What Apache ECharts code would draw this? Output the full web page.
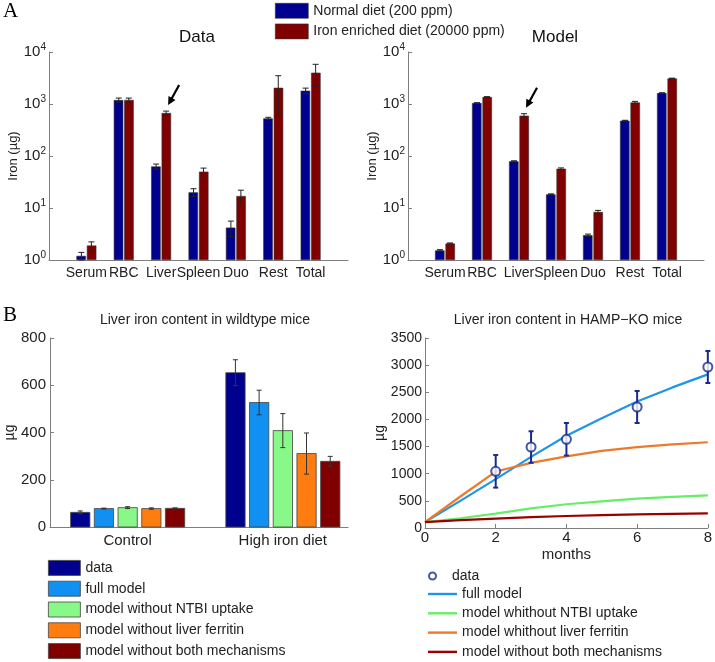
<!DOCTYPE html>
<html>
<head>
<meta charset="utf-8">
<script src="https://cdn.jsdelivr.net/npm/echarts@6/dist/echarts.min.js"></script>
<style>
  html, body { margin: 0; padding: 0; background: #fff; }
  #chart { width: 715px; height: 662px; }
</style>
</head>
<body>
<div id="chart"></div>
<script>
// panel A: iron by compartment (log scale)
var organs = ['', 'Serum', 'RBC', 'Liver', 'Spleen', 'Duo', 'Rest', 'Total', ''];
var dataNormal = [1.2, 1190, 63, 20, 4.2, 530, 1800];
var dataNormalErr = [0.2, 110, 7, 3.5, 1.4, 25, 220];
var dataIron = [1.9, 1200, 670, 50, 17, 2050, 4000];
var dataIronErr = [0.33, 100, 60, 8.5, 5, 1450, 1800];
var modelNormal = [1.53, 1045, 79, 18.3, 3.0, 478, 1625];
var modelNormalErr = [0.05, 15, 2, 0.4, 0.15, 8, 20];
var modelIron = [2.08, 1364, 596, 57, 8.4, 1072, 3100];
var modelIronErr = [0.05, 20, 55, 2, 0.6, 50, 40];

// panel B left: wildtype liver iron
var groups = ['Control', 'High iron diet'];
var wtData = [62, 653], wtDataErr = [6, 55];
var wtFull = [78, 527], wtFullErr = [2, 52];
var wtNtbi = [82, 408], wtNtbiErr = [4, 72];
var wtFerritin = [78, 311], wtFerritinErr = [3, 87];
var wtBoth = [79, 278], wtBothErr = [2, 21];

// panel B right: HAMP-KO time course
var months = [0, 1, 2, 3, 4, 5, 6, 7, 8];
var koFull = [110, 500, 900, 1310, 1700, 2020, 2330, 2590, 2830];
var koNtbi = [110, 180, 265, 360, 437, 490, 541, 575, 602];
var koFerritin = [110, 580, 1040, 1200, 1320, 1420, 1490, 1540, 1580];
var koBoth = [110, 145, 173, 200, 221, 238, 252, 262, 271];
var koDataMonths = [2, 3, 4, 6, 8];
var koData = [1044, 1492, 1634, 2229, 2966];
var koDataErr = [300, 290, 300, 295, 295];

var FONT = 'Liberation Sans';
var NAVY = '#00008f', DARKRED = '#800000';
var axisGray = '#7f7f7f';

function pairs(xs, ys) {
    return ys.map(function (v, i) { return [xs[i], v]; });
}
function withErr(vals, errs, first) {
    return vals.map(function (v, i) { return [i + first, v, errs[i]]; });
}

// error bar series, offset in px from x position
function errSeries(xi, yi, data, offset, color, lw, cap, logMin) {
    return {
        type: 'custom', xAxisIndex: xi, yAxisIndex: yi, silent: true, z: 5,
        data: data,
        renderItem: function (params, api) {
            var x = api.value(0), v = api.value(1), e = api.value(2);
            var lo = v - e;
            if (logMin !== undefined && lo < logMin) lo = logMin;
            var pt = api.coord([x, v + e]);
            var pb = api.coord([x, lo]);
            var cx = pt[0] + offset;
            var st = { stroke: color, lineWidth: lw };
            return {
                type: 'group', children: [
                    { type: 'line', shape: { x1: cx, y1: pt[1], x2: cx, y2: pb[1] }, style: st },
                    { type: 'line', shape: { x1: cx - cap, y1: pt[1], x2: cx + cap, y2: pt[1] }, style: st },
                    { type: 'line', shape: { x1: cx - cap, y1: pb[1], x2: cx + cap, y2: pb[1] }, style: st }
                ]
            };
        }
    };
}

// arrow pointing at the liver bar
function arrowSeries(xi, yi, cat, val) {
    return {
        type: 'custom', xAxisIndex: xi, yAxisIndex: yi, silent: true, z: 6,
        data: [[cat, val]],
        renderItem: function (params, api) {
            var p = api.coord([api.value(0), api.value(1)]);
            var tx = p[0] + 7, ty = p[1] - 8;
            var sx = p[0] + 18, sy = p[1] - 28;
            var dx = tx - sx, dy = ty - sy, L = Math.sqrt(dx * dx + dy * dy);
            var ux = dx / L, uy = dy / L;
            var hx = tx - ux * 8, hy = ty - uy * 8;
            return {
                type: 'group', children: [
                    { type: 'line', shape: { x1: sx, y1: sy, x2: hx + ux * 2, y2: hy + uy * 2 }, style: { stroke: '#000', lineWidth: 2.2 } },
                    { type: 'polygon', shape: { points: [[tx, ty], [hx - uy * 4, hy + ux * 4], [hx + uy * 4, hy - ux * 4]] }, style: { fill: '#000' } }
                ]
            };
        }
    };
}

// custom bars for wildtype panel (value x axis)
function wtSeries(name, vals, errs, k, color) {
    return {
        type: 'custom', name: name, xAxisIndex: 2, yAxisIndex: 2,
        itemStyle: { color: color },
        data: withErr(vals, errs, 1),
        renderItem: function (params, api) {
            var x = api.value(0), v = api.value(1), e = api.value(2);
            var base = api.coord([x, 0]);
            var top = api.coord([x, v]);
            var hi = api.coord([x, v + e]);
            var lo = api.coord([x, v - e]);
            var cx = base[0] + (k - 2) * 23.7;
            var st = { stroke: '#333', lineWidth: 1 };
            return {
                type: 'group', children: [
                    { type: 'rect', shape: { x: cx - 9.6, y: top[1], width: 19.3, height: base[1] - top[1] },
                      style: { fill: color, stroke: '#444', lineWidth: 0.8 } },
                    { type: 'line', shape: { x1: cx, y1: hi[1], x2: cx, y2: lo[1] }, style: st },
                    { type: 'line', shape: { x1: cx - 2.5, y1: hi[1], x2: cx + 2.5, y2: hi[1] }, style: st },
                    { type: 'line', shape: { x1: cx - 2.5, y1: lo[1], x2: cx + 2.5, y2: lo[1] }, style: st }
                ]
            };
        }
    };
}

function logYAxis(gi) {
    return {
        type: 'log', logBase: 10, gridIndex: gi, min: 1, max: 10000,
        name: 'Iron (\u00b5g)', nameLocation: 'middle', nameGap: 26, nameRotate: 90,
        nameTextStyle: { fontFamily: FONT, fontSize: 13, color: '#222' },
        axisLine: { show: true, lineStyle: { color: axisGray } },
        axisTick: { show: true, inside: true, length: 4, lineStyle: { color: axisGray } },
        splitLine: { show: false },
        axisLabel: {
            margin: 3, fontFamily: FONT, fontSize: 15, color: '#222',
            formatter: function (v) { return '10{s|' + Math.round(Math.log10(v)) + '}'; },
            rich: { s: { fontSize: 10, fontFamily: FONT, color: '#222', verticalAlign: 'top', padding: [0, 0, 9, 0] } }
        }
    };
}
function catXAxis(gi) {
    return {
        type: 'category', gridIndex: gi, data: organs, boundaryGap: false,
        axisLine: { lineStyle: { color: axisGray } },
        axisTick: { show: false },
        axisLabel: { interval: 0, margin: 6, fontFamily: FONT, fontSize: 14, color: '#222' }
    };
}
function barSeries(name, vals, color, gi) {
    return {
        type: 'bar', name: name, xAxisIndex: gi, yAxisIndex: gi,
        data: ['-'].concat(vals, ['-']),
        barWidth: 9.5, barGap: '10%',
        itemStyle: { color: color, borderColor: '#333', borderWidth: 0.6 }
    };
}
function koLine(name, ys, color) {
    return {
        type: 'line', name: name, xAxisIndex: 3, yAxisIndex: 3, data: pairs(months, ys),
        showSymbol: false, symbol: 'none', lineStyle: { width: 2.2, color: color }, itemStyle: { color: color }
    };
}

var NORMAL = 'Normal diet (200 ppm)';
var IRON = 'Iron enriched diet (20000 ppm)';
var koColors = { full: '#1e96e6', ntbi: '#66ee66', fer: '#ec7a2a', both: '#9a0000' };
var legendText = { fontFamily: FONT, fontSize: 14, color: '#222' };

var chart = echarts.init(document.getElementById('chart'));
chart.setOption({
    animation: false,
    textStyle: { fontFamily: FONT },
    title: [
        { text: 'A', left: 3, top: 1, padding: 0, textStyle: { fontFamily: 'Liberation Serif', fontSize: 21, fontWeight: 'normal', color: '#000' } },
        { text: 'Data', left: 197, top: 29, padding: 0, textAlign: 'center', textStyle: { fontFamily: FONT, fontSize: 17, fontWeight: 'normal', color: '#111' } },
        { text: 'Model', left: 555, top: 29, padding: 0, textAlign: 'center', textStyle: { fontFamily: FONT, fontSize: 17, fontWeight: 'normal', color: '#111' } },
        { text: 'B', left: 3, top: 305, padding: 0, textStyle: { fontFamily: 'Liberation Serif', fontSize: 21, fontWeight: 'normal', color: '#000' } },
        { text: 'Liver iron content in wildtype mice', left: 205, top: 313, padding: 0, textAlign: 'center', textStyle: { fontFamily: FONT, fontSize: 14, fontWeight: 'normal', color: '#222' } },
        { text: 'Liver iron content in HAMP\u2212KO mice', left: 568, top: 313, padding: 0, textAlign: 'center', textStyle: { fontFamily: FONT, fontSize: 14, fontWeight: 'normal', color: '#222' } }
    ],
    legend: [
        {
            data: [NORMAL, IRON], orient: 'vertical', left: 275, top: 3, padding: 0,
            itemWidth: 33, itemHeight: 15, itemGap: 5, icon: 'rect',
            itemStyle: { borderColor: '#333', borderWidth: 0.6 },
            textStyle: legendText
        },
        {
            data: ['data', 'full model', 'model without NTBI uptake', 'model without liver ferritin', 'model without both mechanisms'],
            orient: 'vertical', left: 48, top: 560, height: 110, padding: 0,
            itemWidth: 32, itemHeight: 15, itemGap: 5, icon: 'rect',
            itemStyle: { borderColor: '#444', borderWidth: 0.8 },
            textStyle: legendText
        },
        {
            data: ['data '], orient: 'vertical', left: 428, top: 569, padding: 0,
            itemWidth: 29, itemHeight: 7, icon: 'emptyCircle',
            textStyle: legendText
        },
        {
            data: ['full model ', 'model whithout NTBI uptake', 'model whithout liver ferritin', 'model without both mechanisms '],
            orient: 'vertical', left: 428, top: 587, height: 90, padding: 0,
            itemWidth: 29, itemHeight: 2.4, itemGap: 5.3, icon: 'rect',
            textStyle: legendText
        }
    ],
    grid: [
        { left: 49, top: 52, width: 299, height: 208 },
        { left: 408, top: 52, width: 296, height: 208 },
        { left: 50, top: 338, width: 298, height: 189 },
        { left: 425, top: 338, width: 283, height: 190 }
    ],
    xAxis: [
        catXAxis(0),
        catXAxis(1),
        {
            type: 'value', gridIndex: 2, min: 0.5, max: 2.42, interval: 0.5,
            splitLine: { show: false },
            axisLine: { lineStyle: { color: axisGray } },
            axisTick: { show: false },
            axisLabel: {
                margin: 6, fontFamily: FONT, fontSize: 15, color: '#222', showMaxLabel: false,
                formatter: function (v) { return v === 1 ? groups[0] : (v === 2 ? groups[1] : ''); }
            }
        },
        {
            type: 'value', gridIndex: 3, min: 0, max: 8, interval: 2,
            name: 'months', nameLocation: 'middle', nameGap: 19,
            nameTextStyle: { fontFamily: FONT, fontSize: 15, color: '#222' },
            splitLine: { show: false },
            axisLine: { lineStyle: { color: axisGray } },
            axisTick: { show: true, inside: true, length: 4, lineStyle: { color: axisGray } },
            axisLabel: { margin: 2, fontFamily: FONT, fontSize: 15, color: '#222' }
        }
    ],
    yAxis: [
        logYAxis(0),
        logYAxis(1),
        {
            type: 'value', gridIndex: 2, min: 0, max: 800, interval: 200,
            name: '\u00b5g', nameLocation: 'middle', nameGap: 31, nameRotate: 90,
            nameTextStyle: { fontFamily: FONT, fontSize: 14, color: '#222' },
            splitLine: { show: false },
            axisLine: { show: true, lineStyle: { color: axisGray } },
            axisTick: { show: true, inside: true, length: 4, lineStyle: { color: axisGray } },
            axisLabel: { margin: 4, fontFamily: FONT, fontSize: 15, color: '#222' }
        },
        {
            type: 'value', gridIndex: 3, min: 0, max: 3500, interval: 500,
            name: '\u00b5g', nameLocation: 'middle', nameGap: 37, nameRotate: 90,
            nameTextStyle: { fontFamily: FONT, fontSize: 14, color: '#222' },
            splitLine: { show: false },
            axisLine: { show: true, lineStyle: { color: axisGray } },
            axisTick: { show: true, inside: true, length: 4, lineStyle: { color: axisGray } },
            axisLabel: { margin: 3, fontFamily: FONT, fontSize: 14, color: '#222', formatter: function (v) { return String(v); } }
        }
    ],
    series: [
        barSeries(NORMAL, dataNormal, NAVY, 0),
        barSeries(IRON, dataIron, DARKRED, 0),
        barSeries(NORMAL, modelNormal, NAVY, 1),
        barSeries(IRON, modelIron, DARKRED, 1),
        errSeries(0, 0, withErr(dataNormal, dataNormalErr, 1), -5, '#222', 1, 3, 1.001),
        errSeries(0, 0, withErr(dataIron, dataIronErr, 1), 5, '#222', 1, 3, 1.001),
        errSeries(1, 1, withErr(modelNormal, modelNormalErr, 1), -5, '#222', 1, 3, 1.001),
        errSeries(1, 1, withErr(modelIron, modelIronErr, 1), 5, '#222', 1, 3, 1.001),
        arrowSeries(0, 0, 3, dataIron[2]),
        arrowSeries(1, 1, 3, modelIron[2]),

        wtSeries('data', wtData, wtDataErr, 0, '#00008f'),
        wtSeries('full model', wtFull, wtFullErr, 1, '#1090f0'),
        wtSeries('model without NTBI uptake', wtNtbi, wtNtbiErr, 2, '#88f888'),
        wtSeries('model without liver ferritin', wtFerritin, wtFerritinErr, 3, '#ff7c10'),
        wtSeries('model without both mechanisms', wtBoth, wtBothErr, 4, '#800000'),

        koLine('full model ', koFull, koColors.full),
        koLine('model whithout NTBI uptake', koNtbi, koColors.ntbi),
        koLine('model whithout liver ferritin', koFerritin, koColors.fer),
        koLine('model without both mechanisms ', koBoth, koColors.both),
        errSeries(3, 3, koData.map(function (v, i) { return [koDataMonths[i], v, koDataErr[i]]; }), 0, '#1a2a8a', 2, 2.5),
        {
            type: 'scatter', name: 'data ', xAxisIndex: 3, yAxisIndex: 3, data: pairs(koDataMonths, koData),
            symbol: 'emptyCircle', symbolSize: 9, z: 6,
            itemStyle: { color: '#1a2a8a', borderColor: '#1a2a8a', borderWidth: 2 }
        }
    ]
});
</script>
</body>
</html>
